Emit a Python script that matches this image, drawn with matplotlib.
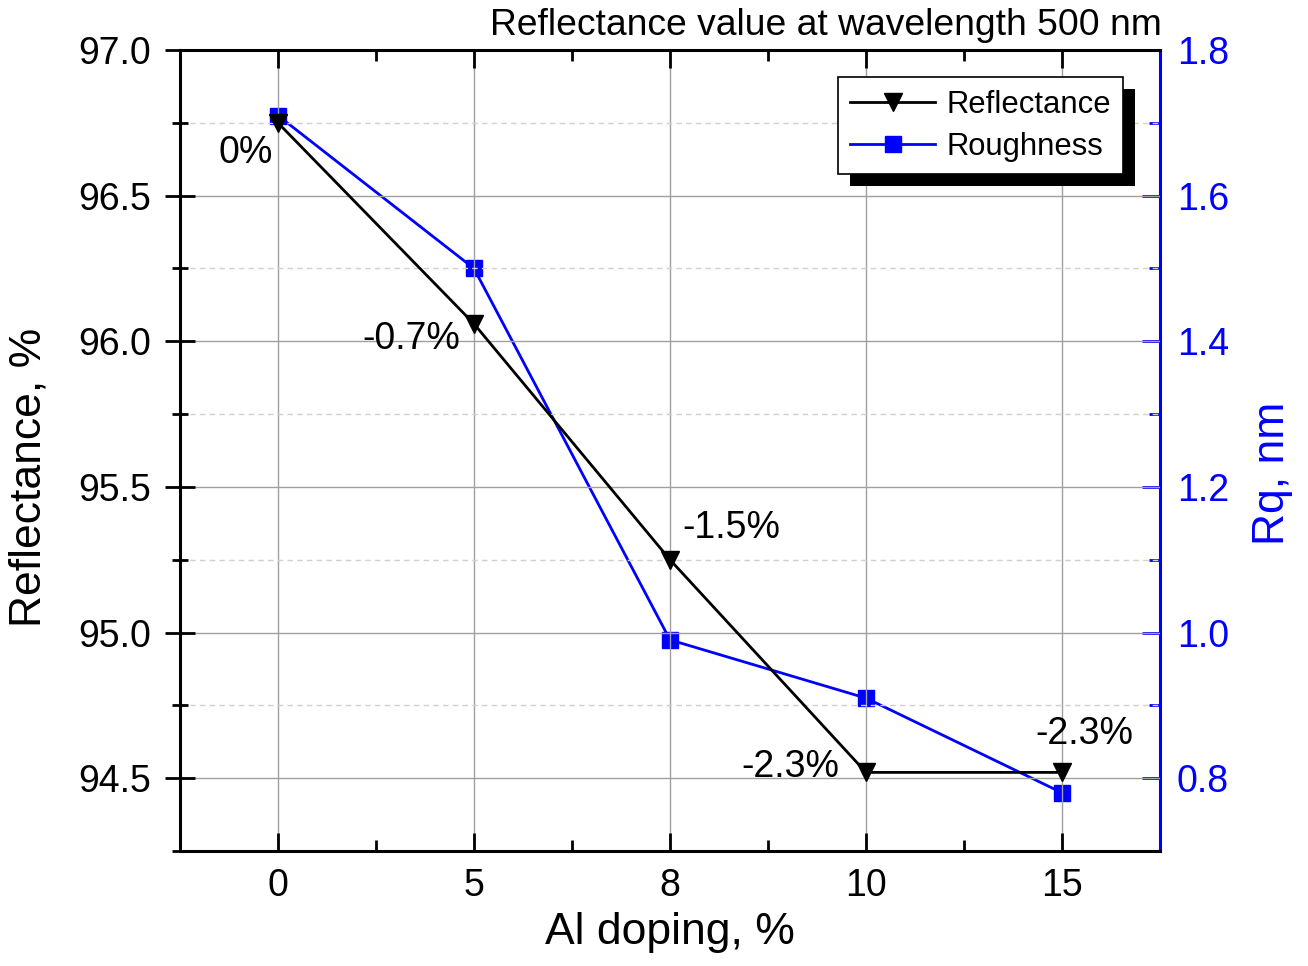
import matplotlib
matplotlib.use("Agg")
import matplotlib.pyplot as plt
from matplotlib.patches import Rectangle
from matplotlib.transforms import IdentityTransform
from matplotlib.ticker import MultipleLocator, FixedLocator, FormatStrFormatter

plt.rcParams['font.family'] = ['Liberation Sans', 'DejaVu Sans']

# Data
doping = ['0', '5', '8', '10', '15']
reflectance = [96.75, 96.06, 95.25, 94.52, 94.52]
roughness = [1.71, 1.50, 0.99, 0.91, 0.78]
change_labels = ['0%', '-0.7%', '-1.5%', '-2.3%', '-2.3%']

BLUE = '#0000ff'
pos = list(range(len(doping)))

fig = plt.figure(figsize=(13.08, 9.66), dpi=100)
ax = fig.add_axes([0.1376, 0.1190, 0.7493, 0.8292])
ax2 = ax.twinx()

ax.plot(pos, reflectance, color='black', lw=2.0, marker='v', ms=13,
        mfc='black', mec='black', label='Reflectance', zorder=3)
ax2.plot(pos, roughness, color=BLUE, lw=2.0, marker='s', ms=11,
         mfc=BLUE, mec=BLUE, label='Roughness', zorder=3)

ax.set_xlim(-0.5, 4.5)
ax.set_ylim(94.25, 97.0)
ax2.set_ylim(0.7, 1.8)

ax.set_xticks(pos)
ax.set_xticklabels(doping)
ax.xaxis.set_minor_locator(FixedLocator([0.5, 1.5, 2.5, 3.5]))
ax.yaxis.set_major_locator(MultipleLocator(0.5))
ax.yaxis.set_minor_locator(MultipleLocator(0.25))
ax.yaxis.set_major_formatter(FormatStrFormatter('%.1f'))
ax2.yaxis.set_major_locator(MultipleLocator(0.2))
ax2.yaxis.set_minor_locator(MultipleLocator(0.1))
ax2.yaxis.set_major_formatter(FormatStrFormatter('%.1f'))

# grid
ax.grid(True, which='major', axis='both', color='#a0a0a0', lw=1.0, zorder=0)
ax.grid(True, which='minor', axis='y', color='#d0d0d0', lw=1.0,
        ls=(0, (4, 3)), zorder=0)
ax.set_axisbelow(True)

# spines and ticks
for s in ['left', 'bottom', 'top']:
    ax.spines[s].set_linewidth(2.2)
ax.spines['right'].set_visible(False)
ax2.spines['right'].set_color(BLUE)
ax2.spines['right'].set_linewidth(2.2)
for s in ['left', 'bottom', 'top']:
    ax2.spines[s].set_visible(False)

ax.tick_params(axis='y', which='major', direction='inout', length=22, width=2,
               labelsize=27, pad=10)
ax.tick_params(axis='y', which='minor', direction='inout', length=12, width=2)
ax.tick_params(axis='x', which='major', direction='in', length=13, width=2,
               labelsize=27, pad=12, top=True)
ax.tick_params(axis='x', which='minor', direction='in', length=8, width=2,
               top=True)
ax2.tick_params(axis='y', which='major', direction='in', length=13, width=2,
                labelsize=27, colors=BLUE, pad=12)
ax2.tick_params(axis='y', which='minor', direction='in', length=8, width=2,
                colors=BLUE)

ax.set_xlabel('Al doping, %', fontsize=32, labelpad=6)
ax.set_ylabel('Reflectance, %', fontsize=32)
ax.yaxis.set_label_coords(-0.133, 0.466)
ax2.set_ylabel('Rq, nm', fontsize=32, color=BLUE)
ax2.yaxis.set_label_coords(1.094, 0.472)

fig.text(0.8884, 0.974, 'Reflectance value at wavelength 500 nm',
         ha='right', va='center', fontsize=26.8)

# percentage change annotations
offsets = [(-4, -22, 'right'), (-10, -11, 'right'), (9, 23, 'left'),
           (-19, 4, 'right'), (16, 28, 'center')]
for x, y, txt, (dx, dy, ha) in zip(pos, reflectance, change_labels, offsets):
    ax.annotate(txt, (x, y), xytext=(dx, dy), textcoords='offset points',
                ha=ha, va='center', fontsize=27, zorder=6)

ax.set_zorder(ax2.get_zorder() + 1)
ax.patch.set_visible(False)

# legend
h1, l1 = ax.get_legend_handles_labels()
h2, l2 = ax2.get_legend_handles_labels()
leg = ax.legend(h1 + h2, l1 + l2, loc='upper left',
                bbox_to_anchor=(0.671, 0.966), fontsize=22.3, frameon=True,
                fancybox=False, framealpha=1, edgecolor='black',
                handlelength=2.75, handletextpad=0.35, borderpad=0.4,
                labelspacing=0.4, borderaxespad=0)
leg.get_frame().set_linewidth(1.2)
leg.set_zorder(10)

fig.canvas.draw()
bb = leg.get_frame().get_window_extent()
ax.add_patch(Rectangle((bb.x0 + 12, bb.y0 - 12), bb.width, bb.height,
                       transform=IdentityTransform(), facecolor='black',
                       edgecolor='none', clip_on=False, zorder=9))

fig.savefig('out.png', dpi=100)
